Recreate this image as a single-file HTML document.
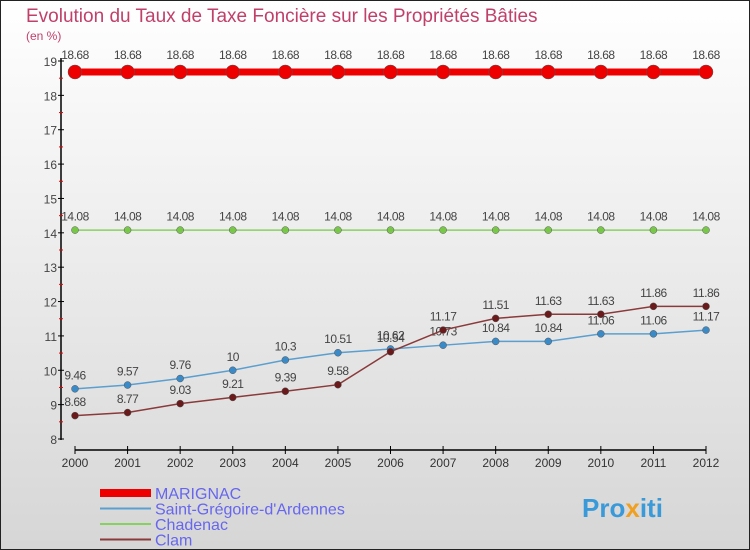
<!DOCTYPE html>
<html><head><meta charset="utf-8"><style>
body{margin:0;}
svg{display:block;font-family:"Liberation Sans",sans-serif;}
</style></head><body>
<svg id="c" width="750" height="550" viewBox="0 0 750 550">
<defs><linearGradient id="bg" x1="0" y1="0" x2="0" y2="1"><stop offset="0" stop-color="#ffffff"/><stop offset="1" stop-color="#d6d6d6"/></linearGradient></defs>
<rect x="0.5" y="0.5" width="749" height="549" fill="url(#bg)" stroke="#222"/>
<text x="26" y="22" font-size="19" fill="#c0406a">Evolution du Taux de Taxe Foncière sur les Propriétés Bâties</text>
<text x="26" y="40" font-size="12" fill="#c0406a">(en %)</text>
<g id="axes"></g><g id="series"></g><g id="legend"></g>
<text x="582" y="517" font-size="26" font-weight="bold" fill="#3a9ad9">Pro<tspan fill="#f0a020">x</tspan>iti</text>
</svg>
<script>
const years=[2000,2001,2002,2003,2004,2005,2006,2007,2008,2009,2010,2011,2012];
const yTicks=[8,9,10,11,12,13,14,15,16,17,18,19];
const marignac=[18.68,18.68,18.68,18.68,18.68,18.68,18.68,18.68,18.68,18.68,18.68,18.68,18.68];
const saintGregoire=[9.46,9.57,9.76,10,10.3,10.51,10.62,10.73,10.84,10.84,11.06,11.06,11.17];
const chadenac=[14.08,14.08,14.08,14.08,14.08,14.08,14.08,14.08,14.08,14.08,14.08,14.08,14.08];
const clam=[8.68,8.77,9.03,9.21,9.39,9.58,10.54,11.17,11.51,11.63,11.63,11.86,11.86];
const seriesNames=["MARIGNAC","Saint-Grégoire-d'Ardennes","Chadenac","Clam"];
const NS="http://www.w3.org/2000/svg";
const x=i=>75+i*(706-75)/(years.length-1);
const y=v=>439-(v-8)*(439-61)/11;
function mk(t,a,p){const e=document.createElementNS(NS,t);for(const k in a)e.setAttribute(k,a[k]);p.appendChild(e);return e;}
const ax=document.getElementById('axes');
let e=mk('line',{x1:61,y1:58,x2:61,y2:440,stroke:'#000','stroke-width':1.5},ax);


e=mk('line',{x1:75,y1:450,x2:706,y2:450,stroke:'#000','stroke-width':1.5},ax);


yTicks.forEach(v=>{
 mk('line',{x1:58,y1:y(v),x2:64,y2:y(v),stroke:'#000'},ax);
 if(v<19) mk('line',{x1:59,y1:y(v+0.5),x2:63,y2:y(v+0.5),stroke:'#e00'},ax);
 const t=mk('text',{x:57,y:y(v)+5,'font-size':12,fill:'#444','text-anchor':'end'},ax);t.textContent=v;
 
 
});
years.forEach((yr,i)=>{
 mk('line',{x1:x(i),y1:446,x2:x(i),y2:454,stroke:'#000'},ax);
 const t=mk('text',{x:x(i),y:467,'font-size':12,fill:'#333','text-anchor':'middle'},ax);t.textContent=yr;
 
 
});
const sg=document.getElementById('series');
const defs=[[marignac,'#ee0000',7,7,'#ee0000','marignac'],[saintGregoire,'#5a9fd0',1.5,3.5,'#3a8ac8','saint-gregoire'],[chadenac,'#88d060',1.5,3.5,'#78c848','chadenac'],[clam,'#8a3a3a',1.5,3.5,'#6a1a1a','clam']];
defs.forEach(([d,c,w,r,fc,nm])=>{
 const g=mk('g',{},sg);
 
 
 mk('polyline',{points:d.map((v,i)=>x(i)+','+y(v)).join(' '),fill:'none',stroke:c,'stroke-width':w},g);
 d.forEach((v,i)=>{
  const p=mk('circle',{cx:x(i),cy:y(v),r:r,fill:fc,stroke:'#555','stroke-width':0.5},g);
  
  
  const t=mk('text',{x:x(i),y:y(v)-(r+6),'font-size':12,fill:'#444','text-anchor':'middle','letter-spacing':'-0.5'},g);
  t.textContent=v;
  
  
 });
});
const lg=document.getElementById('legend');
const lc=[['#ee0000',8],['#5a9fd0',2],['#88d060',2],['#8a3a3a',2]];
seriesNames.forEach((n,i)=>{
 const yy=493+i*15.5;
 const g=mk('g',{},lg);
 
 
 mk('line',{x1:100,y1:yy,x2:151,y2:yy,stroke:lc[i][0],'stroke-width':lc[i][1]},g);
 const t=mk('text',{x:155,y:yy+6,'font-size':16,fill:'#6666ee'},g);t.textContent=n;
});
</script>
</body></html>
